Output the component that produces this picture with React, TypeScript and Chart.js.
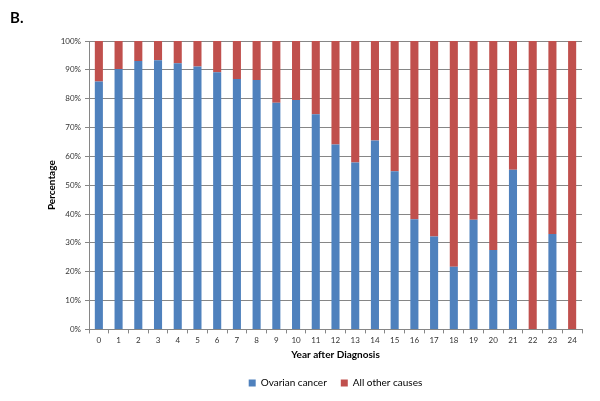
import React, { useEffect, useRef } from "react";
import { Chart, registerables } from "chart.js";

Chart.register(...registerables);

const years = ["0","1","2","3","4","5","6","7","8","9","10","11","12","13","14","15","16","17","18","19","20","21","22","23","24"];
const ovarianCancer = [86, 90.3, 93.1, 93.3, 92.3, 91.2, 89.2, 86.8, 86.5, 78.6, 79.5, 74.6, 64.1, 57.9, 65.5, 54.8, 38.2, 32.2, 21.7, 38, 27.5, 55.4, 0, 33.1, 0];
const otherCauses = [14, 9.7, 6.9, 6.7, 7.7, 8.8, 10.8, 13.2, 13.5, 21.4, 20.5, 25.4, 35.9, 42.1, 34.5, 45.2, 61.8, 67.8, 78.3, 62, 72.5, 44.6, 100, 66.9, 100];
const yTicks = [0, 10, 20, 30, 40, 50, 60, 70, 80, 90, 100];

const FONT = "Lato, 'Open Sans', sans-serif";

export default function App() {
  const ref = useRef<HTMLCanvasElement | null>(null);
  useEffect(() => {
    if (!ref.current) return;
    const chart = new Chart(ref.current, {
      type: "bar",
      data: {
        labels: years,
        datasets: [
          { label: "Ovarian cancer", data: ovarianCancer, backgroundColor: "#4F81BD", barPercentage: 0.82, categoryPercentage: 0.5 },
          { label: "All other causes", data: otherCauses, backgroundColor: "#C0504D", barPercentage: 0.82, categoryPercentage: 0.5 },
        ],
      },
      options: {
        animation: false,
        responsive: false,
        maintainAspectRatio: false,
        layout: { padding: { left: 10, right: 18, top: 0, bottom: 3 } },
        plugins: {
          tooltip: { enabled: false },
          title: {
            display: true,
            text: "B.",
            align: "start",
            color: "#000",
            font: { family: FONT, size: 15, weight: "bold" },
            padding: { top: 9, bottom: 14 },
          },
          legend: {
            position: "bottom",
            fullSize: false,
            labels: {
              boxWidth: 7,
              boxHeight: 7,
              padding: 14,
              color: "#000",
              font: { family: FONT, size: 10 },
            },
          },
        },
        scales: {
          x: {
            stacked: true,
            grid: { display: true, drawOnChartArea: false, drawTicks: true, tickLength: 4, color: "#868686", offset: true },
            border: { color: "#868686" },
            ticks: { color: "#333", font: { family: FONT, size: 8 }, padding: 2, maxRotation: 0, autoSkip: false },
            title: { display: true, text: "Year after Diagnosis", color: "#000", font: { family: FONT, size: 10, weight: "bold" }, padding: { top: 2, bottom: 3 } },
          },
          y: {
            stacked: true,
            min: 0,
            max: 100,
            afterBuildTicks: (axis: any) => { axis.ticks = yTicks.map((v) => ({ value: v })); },
            afterFit: (scale: any) => { scale.width = 79; },
            grid: { color: "#868686", tickLength: 4 },
            border: { color: "#868686" },
            ticks: { color: "#333", font: { family: FONT, size: 8 }, padding: 4, callback: (v: any) => v + "%" },
            title: { display: true, text: "Percentage", color: "#000", font: { family: FONT, size: 10, weight: "bold" }, padding: { top: 36, bottom: 0 } },
          },
        },
      },
    });
    return () => chart.destroy();
  }, []);
  return (
    <div style={{ position: "absolute", left: 0, top: 0, width: 600, height: 401, background: "#fff" }}>
      <canvas ref={ref} width={600} height={401} />
    </div>
  );
}
